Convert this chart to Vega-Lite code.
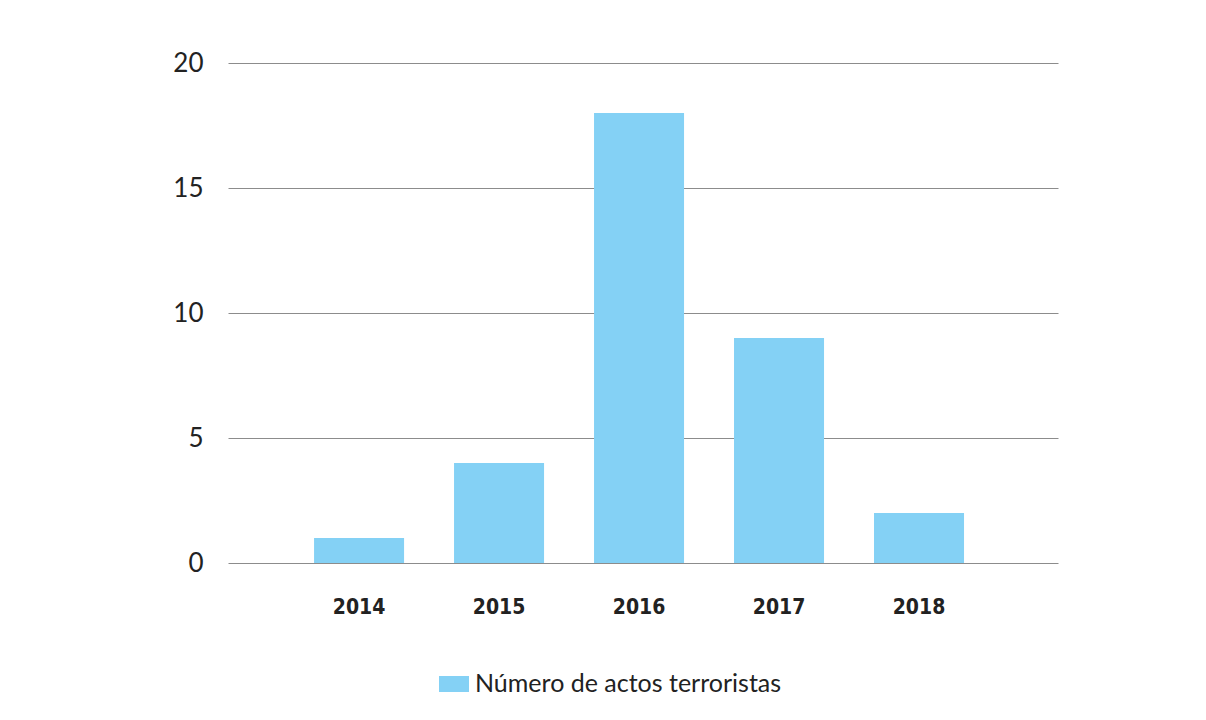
{
  "$schema": "https://vega.github.io/schema/vega-lite/v6.json",
  "autosize": {"type": "none"},
  "padding": {"left": 228, "top": 63, "right": 148, "bottom": 157},
  "width": 830,
  "height": 500,
  "background": "white",
  "data": {
    "values": [
      {"year": "2014", "value": 1, "serie": "Número de actos terroristas"},
      {"year": "2015", "value": 4, "serie": "Número de actos terroristas"},
      {"year": "2016", "value": 18, "serie": "Número de actos terroristas"},
      {"year": "2017", "value": 9, "serie": "Número de actos terroristas"},
      {"year": "2018", "value": 2, "serie": "Número de actos terroristas"}
    ]
  },
  "mark": {"type": "bar"},
  "encoding": {
    "x": {
      "field": "year",
      "type": "nominal",
      "scale": {"paddingInner": 0.357, "paddingOuter": 0.643, "align": 0.478},
      "axis": {
        "title": null,
        "labelAngle": 0,
        "domain": false,
        "ticks": false,
        "labelPadding": 33,
        "labelFont": "DejaVu Sans Condensed, Liberation Sans, sans-serif",
        "labelFontWeight": "bold",
        "labelFontSize": 21,
        "labelColor": "#222222"
      }
    },
    "y": {
      "field": "value",
      "type": "quantitative",
      "scale": {"domain": [0, 20], "nice": false},
      "axis": {
        "title": null,
        "values": [0, 5, 10, 15, 20],
        "domain": false,
        "ticks": false,
        "labelPadding": 25,
        "labelFont": "Lato",
        "labelFontSize": 26,
        "labelColor": "#222222",
        "gridColor": "#8c8c8c",
        "gridWidth": 1,
        "gridOpacity": 1
      }
    },
    "color": {
      "field": "serie",
      "type": "nominal",
      "scale": {"range": ["#84D1F5"]},
      "legend": {
        "title": null,
        "orient": "none",
        "legendX": 211,
        "legendY": 606,
        "symbolType": "M-1,-0.533H1V0.533H-1Z",
        "symbolSize": 900,
        "symbolStrokeWidth": 0,
        "labelFont": "Lato",
        "labelFontSize": 25,
        "labelColor": "#222222",
        "labelOffset": 6,
        "labelLimit": 500
      }
    }
  },
  "config": {
    "view": {"stroke": null}
  }
}
